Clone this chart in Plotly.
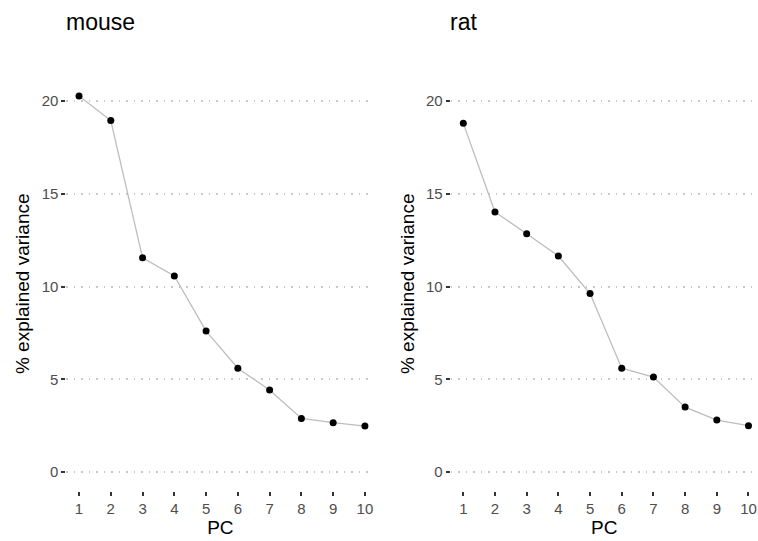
import plotly.graph_objects as go

pcs = [1, 2, 3, 4, 5, 6, 7, 8, 9, 10]
mouse_var = [20.27, 18.95, 11.55, 10.57, 7.6, 5.6, 4.42, 2.89, 2.66, 2.48]
rat_var = [18.8, 14.02, 12.85, 11.65, 9.62, 5.6, 5.12, 3.5, 2.8, 2.5]
panel_titles = ["mouse", "rat"]
y_ticks = [0, 5, 10, 15, 20]

FONT = "Liberation Sans, Arial, sans-serif"

fig = go.Figure()
for i, vals in enumerate([mouse_var, rat_var]):
    sfx = "" if i == 0 else "2"
    fig.add_trace(go.Scatter(
        x=pcs, y=vals, mode="lines+markers",
        line=dict(color="#bdbdbd", width=1.3),
        marker=dict(color="black", size=7),
        xaxis="x" + sfx, yaxis="y" + sfx, showlegend=False,
        hoverinfo="x+y",
    ))

ydom = [0.0932, 0.8577]
xdoms = [[0.0875, 0.494], [0.5945, 1.0]]
axis_common = dict(showline=False, zeroline=False, ticks="outside", ticklen=4,
                   tickwidth=1.5, tickcolor="#333333",
                   tickfont=dict(family=FONT, size=15, color="#4d4d4d"))
layout = dict(
    width=758, height=541, margin=dict(l=0, r=0, t=0, b=0),
    plot_bgcolor="white", paper_bgcolor="white",
    font=dict(family=FONT, color="black"),
)
for i in range(2):
    sfx = "" if i == 0 else "2"
    layout["xaxis" + sfx] = dict(
        domain=xdoms[i], range=[0.6, 10.3], tickvals=pcs, showgrid=False,
        anchor="y" + sfx,
        title=dict(text="PC", font=dict(family=FONT, size=19, color="black"), standoff=2),
        **axis_common)
    layout["yaxis" + sfx] = dict(
        domain=ydom, range=[-1.0, 21.3], tickvals=y_ticks, showgrid=True,
        gridcolor="#c8c8c8", gridwidth=1.5, griddash="1.5px,6px",
        anchor="x" + sfx,
        title=dict(text="% explained variance", font=dict(family=FONT, size=19, color="black"), standoff=6),
        **axis_common)
fig.update_layout(**layout)

fig.add_annotation(text=panel_titles[0], x=64, y=22, xref="paper", yref="paper",
                   showarrow=False, xanchor="left", yanchor="middle",
                   font=dict(family=FONT, size=23, color="black"))
fig.add_annotation(text=panel_titles[1], x=448, y=22, xref="paper", yref="paper",
                   showarrow=False, xanchor="left", yanchor="middle",
                   font=dict(family=FONT, size=23, color="black"))
# convert pixel positions to paper coords
for ann in fig.layout.annotations:
    ann.x = ann.x / 758
    ann.y = 1 - ann.y / 541

fig.write_html("out.html")
